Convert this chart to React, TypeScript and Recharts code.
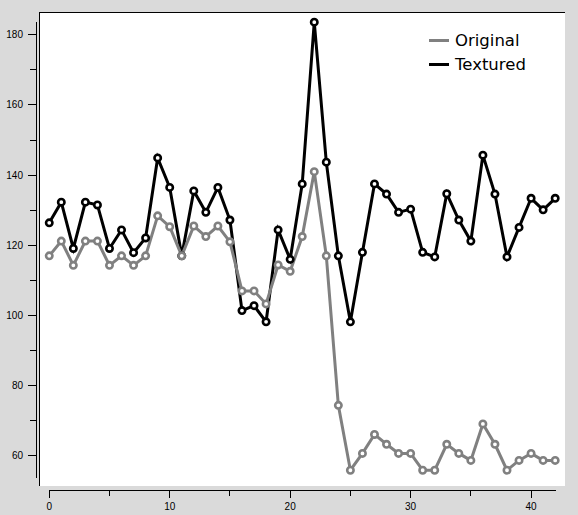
import { LineChart, Line, XAxis, YAxis, Legend, ReferenceLine } from 'recharts';

const original = [
  117.0, 121.2, 114.3, 121.2, 121.2, 114.3, 117.0, 114.3, 117.0, 128.4,
  125.3, 117.0, 125.5, 122.5, 125.5, 121.0, 107.0, 107.0, 103.3, 114.4,
  112.6, 122.5, 141.0, 117.0, 74.4, 55.9, 60.7, 66.1, 63.3, 60.7,
  60.7, 55.9, 55.9, 63.3, 60.7, 58.7, 69.1, 63.3, 55.9, 58.7,
  60.7, 58.7, 58.7,
];

const textured = [
  126.4, 132.3, 119.1, 132.3, 131.5, 119.1, 124.4, 117.9, 122.1, 144.9,
  136.5, 117.0, 135.5, 129.4, 136.5, 127.2, 101.4, 102.8, 98.2, 124.4,
  116.0, 137.5, 183.6, 143.7, 117.0, 98.2, 118.0, 137.5, 134.6, 129.4,
  130.3, 118.0, 116.7, 134.7, 127.2, 121.2, 145.7, 134.6, 116.7, 125.1,
  133.4, 130.1, 133.4,
];

const yTicks = [60, 70, 80, 90, 100, 110, 120, 130, 140, 150, 160, 170, 180];
const xTicks = [0, 5, 10, 15, 20, 25, 30, 35, 40];

const xDomain = [-1.1, 42.4];
const yDomain = [50.27, 183.64];
const yAxisSpan = [53.7, 183.64];
const xAxisSpan = [0, 42.1];

const data = original.map((v, i) => ({ x: i, original: v, textured: textured[i] }));

const tickFont = { fontFamily: '"Liberation Sans", Arial, sans-serif', fontSize: 10, fill: '#000' };

function YTick(props: any) {
  const { x, y, payload } = props;
  const major = payload.value % 20 === 0;
  return (
    <g>
      <line x1={x - (major ? 8 : 6)} x2={x} y1={y} y2={y} stroke="#000" shapeRendering="crispEdges" />
      {major && (
        <text x={x - 13} y={y} dy={3.5} textAnchor="end" {...tickFont}>
          {payload.value}
        </text>
      )}
    </g>
  );
}

function XTick(props: any) {
  const { x, y, payload } = props;
  const major = payload.value % 10 === 0;
  return (
    <g>
      <line x1={x} x2={x} y1={y} y2={y + (major ? 8 : 6)} stroke="#000" shapeRendering="crispEdges" />
      {major && (
        <text x={x} y={y + 19.5} textAnchor="middle" {...tickFont}>
          {payload.value}
        </text>
      )}
    </g>
  );
}

function LegendBox(props: any) {
  const items = props.payload || [];
  return (
    <div style={{ fontFamily: '"DejaVu Sans", sans-serif', fontSize: 16.5, color: '#000', whiteSpace: 'nowrap' }}>
      {items.map((it: any) => (
        <div key={it.value} style={{ display: 'flex', alignItems: 'center', height: 24 }}>
          <span
            style={{ display: 'inline-block', flexShrink: 0, width: 20, height: 3, background: it.color, marginRight: 6 }}
          />
          <span>{it.value}</span>
        </div>
      ))}
    </div>
  );
}

export default function App() {
  return (
    <div style={{ position: 'absolute', left: 0, top: 0, width: 578, height: 515, background: '#dadada' }}>
      <div
        style={{
          position: 'absolute',
          left: 39,
          top: 12,
          width: 526,
          height: 474,
          background: '#fff',
          borderTop: '1px solid #000',
          borderLeft: '1px solid #000',
          boxSizing: 'border-box',
        }}
      />
      <div style={{ position: 'absolute', left: 0, top: 0 }}>
        <LineChart width={578} height={515} data={data} margin={{ top: 22, right: 18, left: 0, bottom: 0 }}>
          <XAxis
            dataKey="x"
            type="number"
            domain={xDomain}
            ticks={xTicks}
            height={25}
            axisLine={false}
            tickLine={false}
            tickSize={0}
            tickMargin={0}
            tick={<XTick />}
            interval={0}
          />
          <YAxis
            type="number"
            domain={yDomain}
            ticks={yTicks}
            width={36}
            axisLine={false}
            tickLine={false}
            tickSize={0}
            tickMargin={0}
            tick={<YTick />}
            interval={0}
          />
          <ReferenceLine
            segment={[{ x: xDomain[0], y: yAxisSpan[0] }, { x: xDomain[0], y: yAxisSpan[1] }]}
            stroke="#000"
            strokeWidth={1}
            shapeRendering="crispEdges"
            ifOverflow="visible"
          />
          <ReferenceLine
            segment={[{ x: xAxisSpan[0], y: yDomain[0] }, { x: xAxisSpan[1], y: yDomain[0] }]}
            stroke="#000"
            strokeWidth={1}
            shapeRendering="crispEdges"
            ifOverflow="visible"
          />
          <Legend
            content={<LegendBox />}
            verticalAlign="top"
            wrapperStyle={{ position: 'absolute', left: 429, top: 28, width: 0, height: 0, overflow: 'visible' }}
          />
          <Line
            name="Textured"
            dataKey="textured"
            stroke="#000"
            strokeWidth={3}
            dot={{ r: 3.2, strokeWidth: 2.6, fill: '#fff', stroke: '#000' }}
            activeDot={false}
            isAnimationActive={false}
          />
          <Line
            name="Original"
            dataKey="original"
            stroke="#808080"
            strokeWidth={3}
            dot={{ r: 3.2, strokeWidth: 2.6, fill: '#fff', stroke: '#808080' }}
            activeDot={false}
            isAnimationActive={false}
          />
        </LineChart>
      </div>
    </div>
  );
}
